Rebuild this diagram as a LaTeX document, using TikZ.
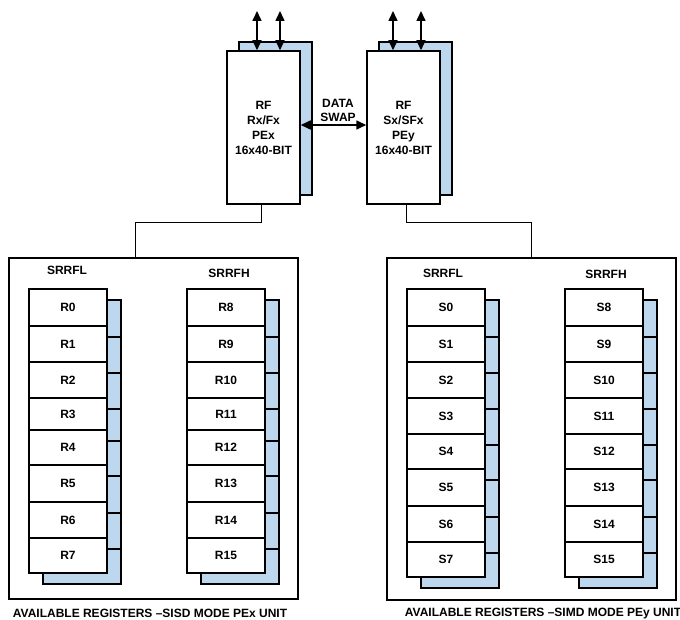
\documentclass[tikz,border=0pt]{standalone}
\usepackage{fontspec}
\setmainfont{Liberation Sans}
\usetikzlibrary{arrows.meta}
\definecolor{shade}{RGB}{189,215,238}
\begin{document}
\begin{tikzpicture}[x=1pt,y=-1pt,
  font=\bfseries\fontsize{12}{15}\selectfont,
  regbox/.style={draw,line width=1.5pt,fill=white,minimum width=78pt,inner sep=0pt},
  shadowbox/.style={draw,line width=1.5pt,fill=shade},
  rfbox/.style={draw,line width=1.5pt,fill=white,minimum width=73pt,minimum height=153pt,align=center,inner sep=0pt},
  panel/.style={draw,line width=1.1pt,minimum width=289pt,inner sep=0pt},
  conn/.style={draw,line width=0.9pt},
  dbl/.style={line width=1.6pt,{Triangle[length=10pt,width=9pt]}-{Triangle[length=10pt,width=9pt]}},
  lbl/.style={inner sep=0pt}]
\useasboundingbox (0,0) rectangle (680,620);

% panels
\node[panel,minimum height=341pt] (PL) at (153.5,428.5) {};
\node[panel,minimum height=342pt] (PR) at (531.5,429) {};

% RF boxes
\draw[shadowbox] (239,42) rectangle (312,195);
\draw[shadowbox] (379,42) rectangle (452,195);
\node[rfbox] (RFL) at (263.5,127.5) {RF\\Rx/Fx\\PEx\\16x40-BIT};
\node[rfbox] (RFR) at (403.5,127.5) {RF\\Sx/SFx\\PEy\\16x40-BIT};

% top arrows
\coordinate (t1) at (257,11);
\coordinate (t2) at (280,11);
\coordinate (t3) at (393,11);
\coordinate (t4) at (421,11);
\draw[dbl] (t1) -- (t1 |- RFL.north);
\draw[dbl] (t2) -- (t2 |- RFL.north);
\draw[dbl] (t3) -- (t3 |- RFR.north);
\draw[dbl] (t4) -- (t4 |- RFR.north);

% data swap
\draw[dbl] ([yshift=2.5pt]RFL.east) -- ([yshift=2.5pt]RFR.west);
\node[lbl,align=center] (ds) at (338,110) {DATA\\[-1pt]SWAP};

% connectors
\draw[conn] ([xshift=-2.5pt]RFL.south) -- ++(0,18) -| ([xshift=-18.5pt]PL.north);
\draw[conn] ([xshift=2.5pt]RFR.south) -- ++(0,18) -| (PR.north);

% labels
\node[lbl] (l1) at (67,270) {SRRFL};
\node[lbl] (l2) at (229,273) {SRRFH};
\node[lbl] (l3) at (443,273) {SRRFL};
\node[lbl] (l4) at (606,274) {SRRFH};
\node[lbl] (c1) at (150,613) {AVAILABLE REGISTERS \textendash SISD MODE PEx UNIT};
\node[lbl] (c2) at (543,614) {AVAILABLE REGISTERS \textendash SIMD MODE PEy UNIT};

% register columns, left panel
\foreach \x/\p/\o in {29/R/0,187/R/8}{
  \foreach \a/\b in {289/326,326/362,362/398,398/430,430/465,465/502,502/538,538/573}{
    \draw[shadowbox] ({\x+14},{\a+11}) rectangle ({\x+92},{\b+11});
  }
  \foreach \a/\b [count=\k from 0] in {289/326,326/362,362/398,398/430,430/465,465/502,502/538,538/573}{
    \pgfmathtruncatemacro\n{\k+\o}
    \node[regbox,minimum height={(\b-\a)*1pt}] (\p\n) at ({\x+39},{(\a+\b)/2}) {\p\n};
  }
}
% register columns, right panel
\foreach \x/\p/\o in {407/S/0,565/S/8}{
  \foreach \a/\b in {289/326,326/362,362/398,398/434,434/469,469/506,506/542,542/577}{
    \draw[shadowbox] ({\x+14},{\a+11}) rectangle ({\x+92},{\b+11});
  }
  \foreach \a/\b [count=\k from 0] in {289/326,326/362,362/398,398/434,434/469,469/506,506/542,542/577}{
    \pgfmathtruncatemacro\n{\k+\o}
    \node[regbox,minimum height={(\b-\a)*1pt}] (\p\n) at ({\x+39},{(\a+\b)/2}) {\p\n};
  }
}
\end{tikzpicture}
\end{document}
